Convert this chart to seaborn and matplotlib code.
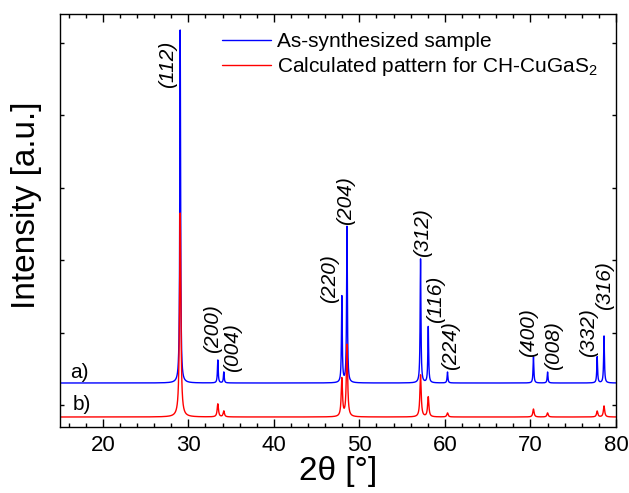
import numpy as np
import pandas as pd
import matplotlib
matplotlib.use("Agg")
import matplotlib.pyplot as plt
from matplotlib.ticker import MultipleLocator
import seaborn as sns

# ---------------- data ----------------
hkl = ["(112)", "(200)", "(004)", "(220)", "(204)", "(312)",
       "(116)", "(224)", "(400)", "(008)", "(332)", "(316)"]
peak_2theta = [29.05, 33.45, 34.15, 47.95, 48.55, 57.15,
               58.05, 60.30, 70.35, 72.00, 77.80, 78.60]
# relative peak heights (% of strongest peak)
sample_rel = [100.0, 6.5, 3.1, 24.4, 44.2, 35.1, 15.9, 3.1, 7.4, 3.1, 7.4, 13.3]
calc_rel = [100.0, 6.4, 2.9, 18.6, 35.3, 20.6, 9.8, 2.0, 3.9, 2.0, 2.9, 5.4]
x_ticks = [20, 30, 40, 50, 60, 70, 80]
series_names = ["As-synthesized sample", "Calculated pattern for CH-CuGaS$_2$"]
trace_tags = ["a)", "b)"]

# ---------------- styling / layout ----------------
sns.set_style("ticks")
plt.rcParams["font.family"] = ["Liberation Sans", "DejaVu Sans"]
plt.rcParams["mathtext.fontset"] = "custom"
plt.rcParams["mathtext.rm"] = "Liberation Sans"
plt.rcParams["mathtext.it"] = "Liberation Sans:italic"
plt.rcParams["text.color"] = "black"
plt.rcParams["axes.labelcolor"] = "black"
plt.rcParams["xtick.color"] = "black"
plt.rcParams["ytick.color"] = "black"

PX = 72.4  # pixels per y unit
sample_base, calc_base = 22 / PX, -12 / PX
sample_scale, calc_scale = 353 / PX / 100, 204 / PX / 100

grid = np.arange(15.0, 80.0001, 0.005)


def profile(rel, scale, base, hw):
    y = np.full_like(grid, base)
    for p, h in zip(peak_2theta, rel):
        y += h * scale / (1 + ((grid - p) / hw) ** 2)
    return y


df = pd.concat([
    pd.DataFrame({"2theta": grid, "I": profile(sample_rel, sample_scale, sample_base, 0.055),
                  "pattern": series_names[0]}),
    pd.DataFrame({"2theta": grid, "I": profile(calc_rel, calc_scale, calc_base, 0.09),
                  "pattern": series_names[1]}),
])

fig = plt.figure(figsize=(6.29, 4.93), dpi=100)
ax = fig.add_axes([60 / 629, (493 - 427) / 493, 556 / 629, 413 / 493])

colors = ["#0000ff", "#ff0000"]
for name, c in zip(series_names, colors):
    sns.lineplot(data=df[df["pattern"] == name], x="2theta", y="I", color=c,
                 lw=1.0, ax=ax, label=name, estimator=None, sort=False)

ax.set_xlim(15, 80)
ax.set_ylim(-22 / PX, 391 / PX)
ax.set_xticks(x_ticks)
ax.xaxis.set_minor_locator(MultipleLocator(2))
ax.yaxis.set_major_locator(MultipleLocator(1))
ax.tick_params(axis="x", which="major", direction="in", length=5.8, width=1,
               top=True, labelsize=16, pad=6, colors="black")
ax.tick_params(axis="x", which="minor", direction="in", length=3, width=1, top=True,
               colors="black")
ax.tick_params(axis="y", which="major", direction="in", length=3, width=1,
               right=True, labelleft=False, colors="black")
for s in ax.spines.values():
    s.set_linewidth(1.0)
    s.set_color("black")

ax.set_xlabel("2θ [°]", fontsize=24, color="black")
ax.set_ylabel("Intensity [a.u.]", fontsize=24, color="black")
ax.xaxis.set_label_coords(0.5, -0.07)
ax.yaxis.set_label_coords(-0.033, 0.537)

# peak labels
offsets = [(-13, -58), (-5, 7), (9, 0), (-12, -6), (-1, 2), (2, 2),
           (7, 4), (3, 2), (-5, 0), (6, 2), (-9, 0), (0, 26)]
for lab, p, h, (dx, dy) in zip(hkl, peak_2theta, sample_rel, offsets):
    ax.annotate(lab, xy=(p, sample_base + h * sample_scale), xytext=(dx, dy),
                textcoords="offset pixels", rotation=90, ha="center", va="bottom",
                fontsize=15, fontstyle="italic", color="black")

ax.text(17.28, sample_base + 11 / PX, trace_tags[0], fontsize=15, ha="center", va="center",
        color="black")
ax.text(17.5, calc_base + 12 / PX, trace_tags[1], fontsize=15, ha="center", va="center",
        color="black")

leg = ax.legend(loc="upper left", bbox_to_anchor=((222 - 60) / 556, (427 - 32) / 413),
                frameon=False, fontsize=15, handlelength=2.35, handletextpad=0.3,
                borderaxespad=0, borderpad=0, labelspacing=0.2)
for t in leg.get_texts():
    t.set_color("black")

fig.savefig("out.png", dpi=100)
